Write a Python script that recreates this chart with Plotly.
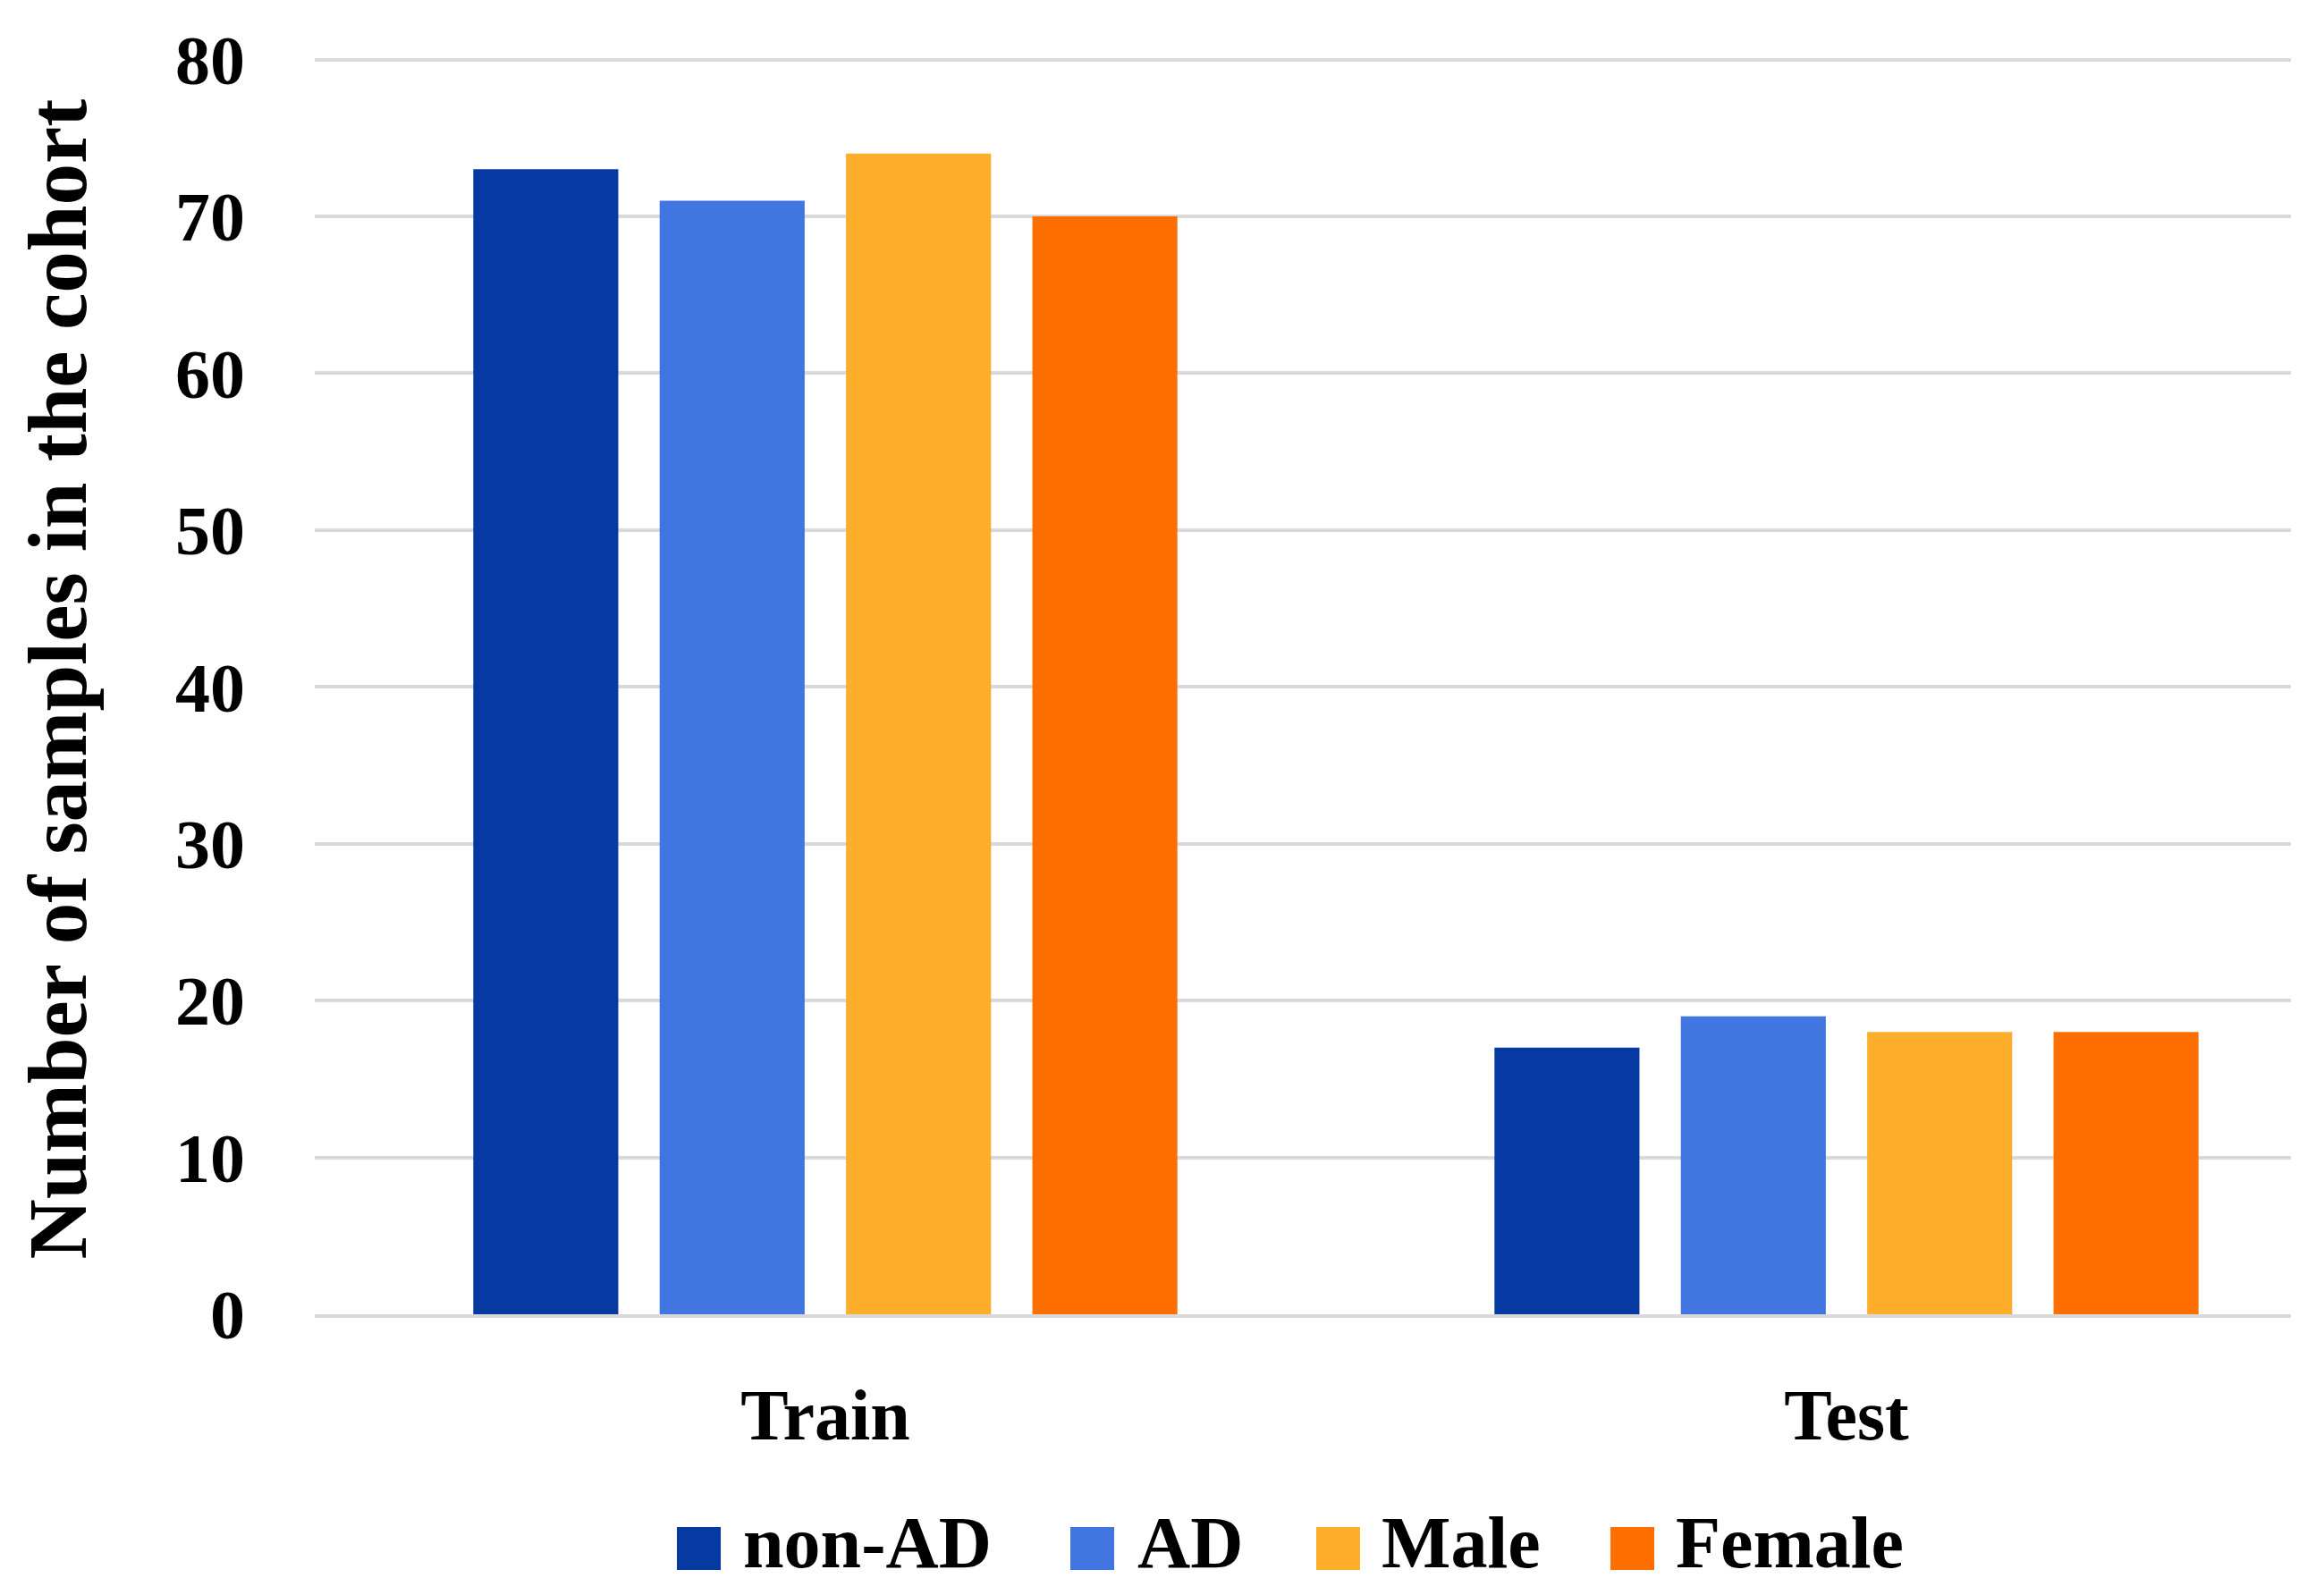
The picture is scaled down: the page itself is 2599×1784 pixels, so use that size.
import plotly.graph_objects as go

categories = ["Train", "Test"]
series_names = ["non-AD", "AD", "Male", "Female"]
series_colors = ["#0739A3", "#4176E1", "#FFAE2B", "#FF6F00"]
non_ad = [73, 17]
ad = [71, 19]
male = [74, 18]
female = [70, 18]
series_values = [non_ad, ad, male, female]
y_ticks = [0, 10, 20, 30, 40, 50, 60, 70, 80]

W, H = 2599, 1784
ML, MR, MT, MB = 344, 45, 41, 322
FONT = "Liberation Serif"
GRID = "#d9d9d9"

fig = go.Figure()
for name, vals, col in zip(series_names, series_values, series_colors):
    fig.add_trace(go.Bar(x=categories, y=vals, name=name, marker=dict(color=col, line=dict(width=0)),
                         showlegend=False))

# custom legend (large square keys like the reference)
leg_sq_x = [749, 1189, 1464, 1793]
leg_txt_x = [821, 1262, 1535, 1864]
pw = W - ML - MR
ph = H - MT - MB
def px2paper_x(p):
    return (p - ML) / pw
def py2paper_y(p):
    return (H - MB - p) / ph

shapes = []
annotations = []
for name, col, sx, tx in zip(series_names, series_colors, leg_sq_x, leg_txt_x):
    shapes.append(dict(type="rect", xref="paper", yref="paper",
                       x0=px2paper_x(sx), x1=px2paper_x(sx + 49),
                       y0=py2paper_y(1748), y1=py2paper_y(1700),
                       fillcolor=col, line=dict(width=0)))
    annotations.append(dict(text=name, xref="paper", yref="paper", x=px2paper_x(tx), y=py2paper_y(1717),
                            xanchor="left", yanchor="middle", showarrow=False,
                            font=dict(family=FONT, size=82, color="black", weight="bold")))

annotations.append(dict(text="Number of samples in the cohort", xref="paper", yref="paper",
                        x=px2paper_x(56), y=0.5, textangle=-90, xanchor="center", yanchor="middle",
                        showarrow=False, font=dict(family=FONT, size=93, color="black", weight="bold")))

fig.update_layout(
    width=W, height=H,
    margin=dict(l=ML, r=MR, t=MT, b=MB),
    paper_bgcolor="white", plot_bgcolor="white",
    barmode="group", bargap=0.27, bargroupgap=0.222,
    shapes=shapes, annotations=annotations,
    font=dict(family=FONT, color="black"),
)
fig.update_xaxes(type="category", categoryorder="array", categoryarray=categories,
                 range=[-0.5, 1.4352], showgrid=False, zeroline=False,
                 showline=True, linecolor=GRID, linewidth=3.5,
                 ticks="", ticklabelstandoff=40,
                 tickfont=dict(family=FONT, size=80, color="black", weight="bold"))
fig.update_yaxes(range=[0, 81], tickvals=y_ticks, showgrid=True, gridcolor=GRID, gridwidth=3.5,
                 zeroline=False, showline=False, ticks="", ticklabelstandoff=77,
                 tickfont=dict(family=FONT, size=78, color="black", weight="bold"))

fig.write_html("out.html")
